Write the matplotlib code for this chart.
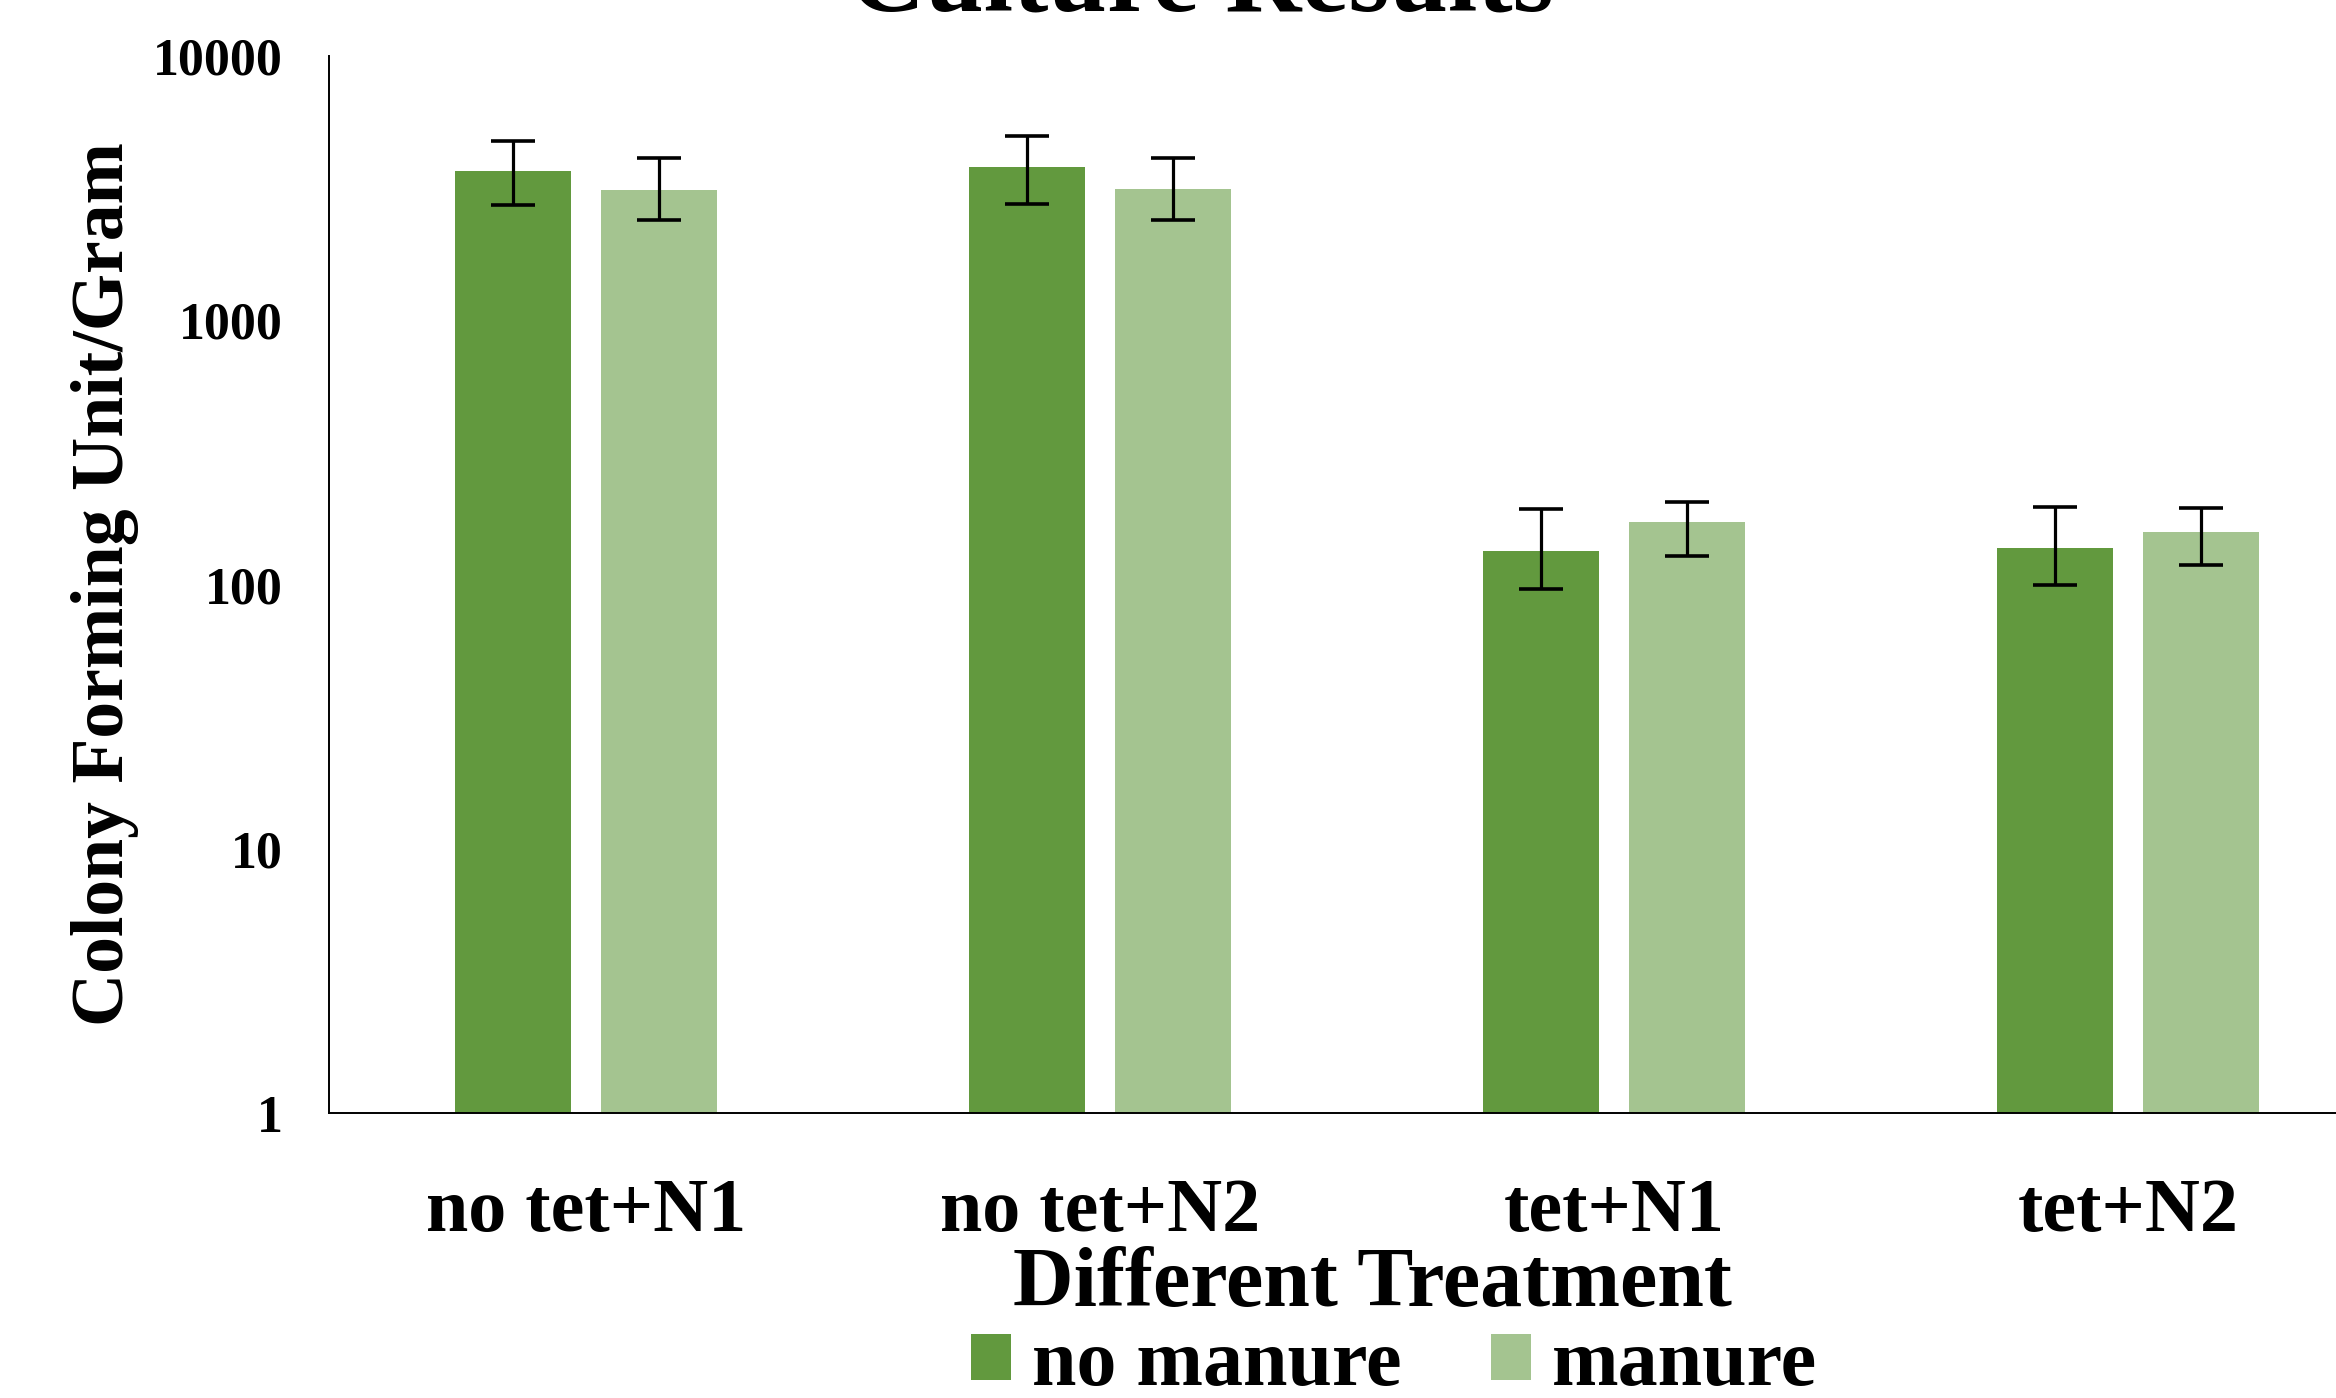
import numpy as np
import matplotlib
matplotlib.use('Agg')
import matplotlib.pyplot as plt

plt.rcParams['font.family'] = ['Liberation Serif', 'DejaVu Serif']
plt.rcParams['font.weight'] = 'bold'

# data (log scale)
treatments = ['no tet+N1', 'no tet+N2', 'tet+N1', 'tet+N2']
series_names = ['no manure', 'manure']

no_manure = [3670, 3800, 134, 137]
no_manure_low = [2720, 2760, 96, 100]
no_manure_high = [4760, 4990, 193, 197]

manure = [3110, 3140, 172, 158]
manure_low = [2400, 2390, 128, 119]
manure_high = [4110, 4110, 205, 194]

y_ticks = [1, 10, 100, 1000, 10000]

colors = ['#62993E', '#A4C490']

W, H = 2336, 1398
fig = plt.figure(figsize=(W / 100, H / 100), dpi=100)
# axes runs a bit past the right edge of the picture, like the source
ax = fig.add_axes([329 / W, 1 - 1113 / H, 2056 / W, 1057 / H])

x = np.arange(len(treatments))
width = 0.224
offset = 0.142

for vals, low, high, off, col, name in [
        (no_manure, no_manure_low, no_manure_high, -offset, colors[0], series_names[0]),
        (manure, manure_low, manure_high, offset, colors[1], series_names[1])]:
    vals = np.array(vals, dtype=float)
    yerr = [vals - np.array(low), np.array(high) - vals]
    ax.bar(x + off, vals, width, color=col, label=name, zorder=2)
    ax.errorbar(x + off, vals, yerr=yerr, fmt='none', ecolor='black',
                elinewidth=2.3, capsize=16, capthick=2.6, zorder=3)

ax.set_yscale('log')
ax.set_ylim(1, 10000)
ax.set_xlim(-0.5, len(treatments) - 0.5)
ax.set_yticks(y_ticks)
ax.set_yticklabels([str(t) for t in y_ticks])
ax.yaxis.set_minor_locator(matplotlib.ticker.NullLocator())
ax.set_xticks(x)
ax.set_xticklabels(treatments)

ax.tick_params(axis='y', length=0, pad=33, labelsize=37.4)
ax.tick_params(axis='x', length=0, pad=47, labelsize=54.7)

for s in ['top', 'right']:
    ax.spines[s].set_visible(False)
for s in ['left', 'bottom']:
    ax.spines[s].set_linewidth(1.4)

ax.set_ylabel('Colony Forming Unit/Gram', fontsize=53, fontweight='bold')
ax.yaxis.label.set_va('center')
ax.yaxis.set_label_coords((105 - 329) / 2056, 0.5)

ax.set_xlabel('Different Treatment', fontsize=60.5, fontweight='bold')
ax.xaxis.label.set_va('baseline')
ax.xaxis.set_label_coords((1372 - 329) / 2056, (1113 - 1306) / 1057)

# title sits partly above the top edge, as in the source picture
ax.set_title('Culture Results', fontsize=76, fontweight='bold',
             x=(1201 - 329) / 2056, y=(1113 - 19) / 1057, va='baseline')

fig.legend(loc='center left', bbox_to_anchor=(971 / W, 1 - 1366 / H), ncol=2,
           frameon=False, fontsize=57.6, handlelength=0.5, handleheight=0.5,
           handletextpad=0.26, columnspacing=1.12, borderpad=0, borderaxespad=0)

fig.savefig('out.png', dpi=100)
